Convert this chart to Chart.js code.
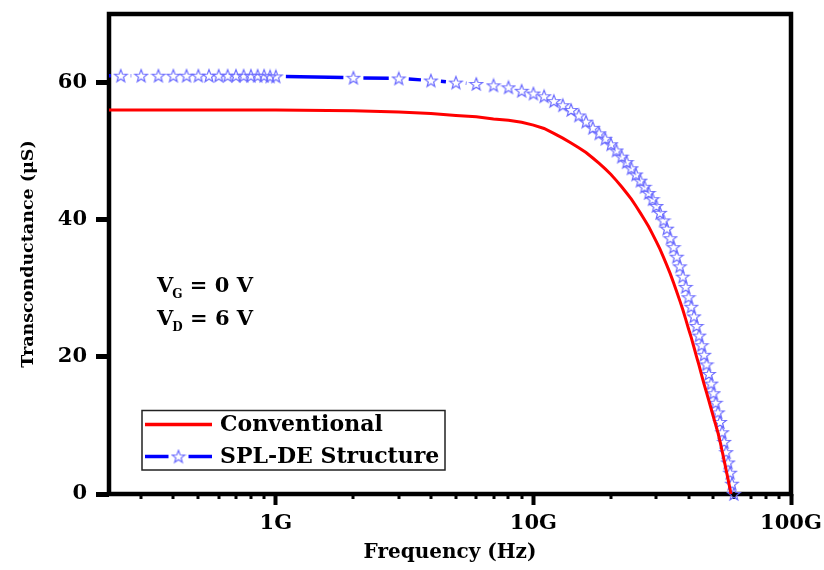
<!DOCTYPE html>
<html>
<head>
<meta charset="utf-8">
<script src="https://cdn.jsdelivr.net/npm/chart.js@4.4.1/dist/chart.umd.min.js"></script>
<style>
html,body{margin:0;padding:0;background:#fff;}
#wrap{width:824px;height:570px;position:relative;}
</style>
</head>
<body>
<div id="wrap"><canvas id="c" width="824" height="570"></canvas></div>
<script>
// ---------------- data ----------------
const seriesNames = ['Conventional', 'SPL-DE Structure'];

// Conventional: frequency (GHz) and transconductance (µS)
const convFreqGHz = [0.2, 0.5, 1, 2, 3, 4, 5, 6, 7, 8, 9, 10,
  11, 12, 13, 14, 15, 16, 17, 18, 19, 20, 21, 22, 23, 24, 25, 26, 27, 28, 29, 30,
  31, 32, 33, 34, 35, 36, 37, 38, 39, 40, 41, 42, 43, 44, 45, 46, 47, 48, 49, 50,
  51, 52, 53, 54, 55, 56, 57, 58, 58.5];
const convGm = [56.0, 56.0, 56.0, 55.9, 55.7, 55.5, 55.2, 55.0, 54.7, 54.5, 54.2, 53.8,
  53.3, 52.6, 51.9, 51.2, 50.5, 49.8, 49.0, 48.2, 47.4, 46.6, 45.7, 44.8, 43.9, 43.0, 42.0, 41.0, 40.0, 39.0, 37.9, 36.8,
  35.7, 34.5, 33.3, 32.1, 30.8, 29.5, 28.2, 26.9, 25.5, 24.1, 22.8, 21.4, 20.0, 18.7, 17.3, 16.0, 14.8, 13.6, 12.4, 11.2,
  10.1, 9.0, 7.7, 6.3, 4.9, 3.5, 2.1, 0.7, 0.0];

// SPL-DE Structure: frequency (GHz) and transconductance (µS)
const splFreqGHz = [0.2, 0.25, 0.3, 0.35, 0.4, 0.45, 0.5, 0.55, 0.6, 0.65, 0.7, 0.75, 0.8, 0.85, 0.9, 0.95,
  1, 2, 3, 4, 5, 6, 7, 8, 9, 10,
  11, 12, 13, 14, 15, 16, 17, 18, 19, 20, 21, 22, 23, 24, 25, 26, 27, 28, 29, 30,
  31, 32, 33, 34, 35, 36, 37, 38, 39, 40, 41, 42, 43, 44, 45, 46, 47, 48, 49, 50,
  51, 52, 53, 54, 55, 56, 57, 58, 59, 60];
const splGm = [61.0, 61.0, 61.0, 61.0, 61.0, 61.0, 61.0, 61.0, 61.0, 61.0, 61.0, 61.0, 61.0, 61.0, 61.0, 60.9,
  60.9, 60.7, 60.6, 60.3, 60.0, 59.8, 59.6, 59.3, 58.8, 58.4,
  58.0, 57.3, 56.7, 56.0, 55.2, 54.3, 53.4, 52.6, 51.8, 51.0, 50.1, 49.2, 48.4, 47.5, 46.6, 45.7, 44.8, 43.9, 43.0, 42.0,
  41.0, 39.9, 38.7, 37.3, 36.0, 34.6, 33.2, 31.7, 30.2, 28.7, 27.3, 25.9, 24.5, 23.1, 21.7, 20.3, 18.9, 17.5, 16.1, 14.7,
  13.3, 11.9, 10.5, 9.0, 7.6, 6.1, 4.6, 3.1, 1.5, 0.0];

// axes
const xMin = 2.25e8, xMax = 1e11;
const xMajorTicks = [1e9, 1e10, 1e11];
const xTickLabels = ['1G', '10G', '100G'];
const xMinorTicks = [3e8, 4e8, 5e8, 6e8, 7e8, 8e8, 9e8,
  2e9, 3e9, 4e9, 5e9, 6e9, 7e9, 8e9, 9e9,
  2e10, 3e10, 4e10, 5e10, 6e10, 7e10, 8e10, 9e10];
const yMin = 0, yMax = 70;
const yTicks = [0, 20, 40, 60];
const xTitle = 'Frequency (Hz)';
const yTitle = 'Transconductance (\u03bcS)';
const biasLines = [['V', 'G', ' = 0 V'], ['V', 'D', ' = 6 V']];

// ---------------- styling helpers ----------------
const FONT = 'DejaVu Serif';
const RED = '#ff0000', BLUE = '#0000ff', STAR = '#6a6aff';
const GAP = 10;

function makeStar(r, color) {
  const size = 16;
  const c = document.createElement('canvas');
  c.width = size; c.height = size;
  const g = c.getContext('2d');
  g.translate(size / 2, size / 2 + 0.5);
  g.beginPath();
  for (let i = 0; i < 10; i++) {
    const rad = i % 2 === 0 ? r : r * 0.42;
    const a = -Math.PI / 2 + i * Math.PI / 5;
    g.lineTo(rad * Math.cos(a), rad * Math.sin(a));
  }
  g.closePath();
  g.strokeStyle = color; g.lineWidth = 1.2; g.stroke();
  return c;
}
const starImg = makeStar(6.6, STAR);

function segLen(ctx) {
  const dx = ctx.p1.x - ctx.p0.x, dy = ctx.p1.y - ctx.p0.y;
  return Math.sqrt(dx * dx + dy * dy);
}

const toXY = (fs, gs) => fs.map((f, i) => ({ x: f * 1e9, y: gs[i] }));

// ---------------- plugins ----------------
const framePlugin = {
  id: 'frame',
  beforeDatasetsDraw(chart) {
    const { ctx, chartArea: a, scales } = chart;
    ctx.save();
    ctx.strokeStyle = '#000'; ctx.lineWidth = 3;
    xMinorTicks.forEach(v => {
      const px = Math.round(scales.x.getPixelForValue(v));
      ctx.beginPath(); ctx.moveTo(px, a.bottom); ctx.lineTo(px, a.bottom + 5); ctx.stroke();
    });
    ctx.lineWidth = 4.5;
    ctx.strokeRect(a.left, a.top, a.right - a.left, a.bottom - a.top);
    ctx.restore();
  }
};

const overlayPlugin = {
  id: 'overlay',
  afterDatasetsDraw(chart) {
    const { ctx } = chart;
    ctx.save();
    const big = 'bold 21px "' + FONT + '"', small = 'bold 12px "' + FONT + '"';
    ctx.fillStyle = '#000'; ctx.textBaseline = 'alphabetic'; ctx.textAlign = 'left';
    biasLines.forEach((ln, i) => {
      let x = 157; const y = 292 + i * 33;
      ctx.font = big; ctx.fillText(ln[0], x, y); x += ctx.measureText(ln[0]).width - 1;
      ctx.font = small; ctx.fillText(ln[1], x, y + 6); x += ctx.measureText(ln[1]).width;
      ctx.font = big; ctx.fillText(ln[2], x, y);
    });
    const lx = 142, ly = 410.5, lw = 303, lh = 59.5;
    ctx.fillStyle = '#fff'; ctx.fillRect(lx, ly, lw, lh);
    ctx.strokeStyle = '#222'; ctx.lineWidth = 1.5; ctx.strokeRect(lx, ly, lw, lh);
    const ds = chart.data.datasets;
    const rows = [424.5, 456.5];
    ctx.lineWidth = 3.5;
    ctx.strokeStyle = ds[0].borderColor;
    ctx.beginPath(); ctx.moveTo(145, rows[0]); ctx.lineTo(212, rows[0]); ctx.stroke();
    ctx.strokeStyle = ds[1].borderColor;
    ctx.beginPath(); ctx.moveTo(145, rows[1]); ctx.lineTo(178.5 - GAP, rows[1]);
    ctx.moveTo(178.5 + GAP, rows[1]); ctx.lineTo(212, rows[1]); ctx.stroke();
    ctx.drawImage(starImg, 178.5 - 8, rows[1] - 8);
    ctx.fillStyle = '#000'; ctx.font = 'bold 22px "' + FONT + '"'; ctx.textBaseline = 'middle';
    ds.forEach((d, i) => ctx.fillText(d.label, 220, rows[i] + 1));
    ctx.restore();
  }
};

// ---------------- chart ----------------
const tickFont = { family: FONT, weight: 'bold', size: 21 };

new Chart(document.getElementById('c'), {
  type: 'scatter',
  data: {
    datasets: [
      {
        label: seriesNames[0],
        data: toXY(convFreqGHz, convGm),
        showLine: true,
        borderColor: RED,
        borderWidth: 3,
        pointRadius: 0,
        tension: 0
      },
      {
        label: seriesNames[1],
        data: toXY(splFreqGHz, splGm),
        showLine: true,
        borderColor: BLUE,
        borderWidth: 3.5,
        pointStyle: starImg,
        pointRadius: 6,
        tension: 0,
        clip: { left: 0, top: 0, right: 0, bottom: 10 },
        segment: {
          borderDash: c => { const L = segLen(c); return L <= 2 * GAP ? [0, L + 1] : [L - 2 * GAP, 2 * GAP]; },
          borderDashOffset: c => { const L = segLen(c); return L <= 2 * GAP ? 0 : L - GAP; }
        }
      }
    ]
  },
  options: {
    responsive: false,
    animation: false,
    events: [],
    layout: { padding: { top: 14, right: 33, left: 0, bottom: 0 } },
    plugins: { legend: { display: false }, tooltip: { enabled: false } },
    scales: {
      x: {
        type: 'logarithmic',
        min: xMin, max: xMax,
        afterBuildTicks: s => { s.ticks = xMajorTicks.map(v => ({ value: v })); },
        afterFit: s => { s.height = 76; s.paddingLeft = 0; s.paddingRight = 0; },
        ticks: {
          autoSkip: false, maxRotation: 0, minRotation: 0, padding: 6, color: '#000', font: tickFont,
          callback: (v, i) => xTickLabels[i]
        },
        grid: { display: true, drawOnChartArea: false, drawTicks: true, tickLength: 11, tickWidth: 4, tickColor: '#000' },
        border: { display: false },
        title: { display: true, text: xTitle, color: '#000', font: { family: FONT, weight: 'bold', size: 20 }, padding: { top: 0, bottom: 5 } }
      },
      y: {
        type: 'linear',
        min: yMin, max: yMax,
        afterBuildTicks: s => { s.ticks = yTicks.map(v => ({ value: v })); },
        afterFit: s => { s.width = 109; s.paddingTop = 0; s.paddingBottom = 0; },
        ticks: { padding: 9, color: '#000', font: tickFont },
        grid: { display: true, drawOnChartArea: false, drawTicks: true, tickLength: 13, tickWidth: 5, tickColor: '#000' },
        border: { display: false },
        title: { display: true, text: yTitle, color: '#000', font: { family: FONT, weight: 'bold', size: 17.5 }, padding: { top: 18, bottom: 0 } }
      }
    }
  },
  plugins: [framePlugin, overlayPlugin]
});
</script>
</body>
</html>
